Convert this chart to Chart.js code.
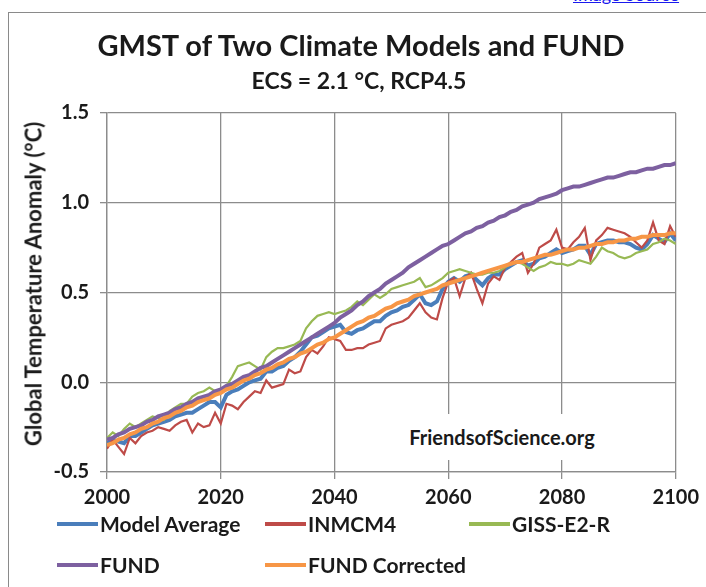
<!DOCTYPE html>
<html>
<head>
<meta charset="utf-8">
<script src="https://cdn.jsdelivr.net/npm/chart.js@4.4.1/dist/chart.umd.min.js"></script>
<style>
  html, body { margin: 0; padding: 0; background: #fff; }
  body { width: 706px; height: 587px; position: relative; overflow: hidden; font-family: Lato, "Open Sans", sans-serif; font-weight: bold; color: #1a1a1a; }
  #frame { position: absolute; left: 8px; top: 12px; width: 720px; height: 600px; border: 1px solid #8a8a8a; box-sizing: border-box; }
  #chart { position: absolute; left: 0; top: 0; }
  .txt { position: absolute; white-space: nowrap; }
  #title { left: 0; width: 722px; top: 27px; text-align: center; font-size: 29px; }
  #subtitle { left: 0; width: 718px; top: 66px; text-align: center; font-size: 23px; }
  #ytitle { left: 33px; top: 284px; font-size: 22px; transform: translate(-50%, -50%) rotate(-90deg); }
  #stamp { left: 398px; top: 414px; width: 208px; height: 46px; background: #fff; text-align: center; line-height: 46px; font-size: 20px; }
  .key { position: absolute; height: 4px; width: 41px; }
  .lab { position: absolute; font-size: 21px; white-space: nowrap; line-height: 26px; }
  #toplink { position: absolute; left: 573px; top: -17px; font-size: 18px; font-weight: normal; color: #1a1aee; text-decoration: underline; }
</style>
</head>
<body>
<a id="toplink">Image Source</a>
<div id="frame"></div>
<canvas id="chart" width="706" height="587"></canvas>
<div class="txt" id="title">GMST of Two Climate Models and FUND</div>
<div class="txt" id="subtitle">ECS = 2.1 °C, RCP4.5</div>
<div class="txt" id="ytitle">Global Temperature Anomaly (°C)</div>
<div class="txt" id="stamp">FriendsofScience.org</div>
<div id="legend"></div>
<script>
// years on the x axis
const years = [2000, 2001, 2002, 2003, 2004, 2005, 2006, 2007, 2008, 2009,
  2010, 2011, 2012, 2013, 2014, 2015, 2016, 2017, 2018, 2019,
  2020, 2021, 2022, 2023, 2024, 2025, 2026, 2027, 2028, 2029,
  2030, 2031, 2032, 2033, 2034, 2035, 2036, 2037, 2038, 2039,
  2040, 2041, 2042, 2043, 2044, 2045, 2046, 2047, 2048, 2049,
  2050, 2051, 2052, 2053, 2054, 2055, 2056, 2057, 2058, 2059,
  2060, 2061, 2062, 2063, 2064, 2065, 2066, 2067, 2068, 2069,
  2070, 2071, 2072, 2073, 2074, 2075, 2076, 2077, 2078, 2079,
  2080, 2081, 2082, 2083, 2084, 2085, 2086, 2087, 2088, 2089,
  2090, 2091, 2092, 2093, 2094, 2095, 2096, 2097, 2098, 2099, 2100];

// anomaly values (°C)
const modelAverage = [-0.34, -0.32, -0.33, -0.34, -0.30, -0.30, -0.28, -0.26, -0.24, -0.23,
  -0.22, -0.21, -0.19, -0.18, -0.17, -0.17, -0.15, -0.13, -0.11, -0.11,
  -0.14, -0.07, -0.05, -0.04, -0.02, 0.00, 0.01, 0.02, 0.06, 0.06,
  0.08, 0.09, 0.12, 0.14, 0.17, 0.21, 0.25, 0.26, 0.28, 0.30,
  0.31, 0.32, 0.28, 0.27, 0.29, 0.30, 0.32, 0.34, 0.34, 0.37,
  0.39, 0.40, 0.42, 0.43, 0.46, 0.49, 0.44, 0.43, 0.45, 0.52,
  0.56, 0.58, 0.56, 0.59, 0.60, 0.57, 0.54, 0.58, 0.60, 0.60,
  0.63, 0.65, 0.67, 0.68, 0.65, 0.66, 0.69, 0.70, 0.72, 0.74,
  0.72, 0.73, 0.74, 0.76, 0.76, 0.71, 0.77, 0.78, 0.79, 0.79,
  0.78, 0.78, 0.77, 0.75, 0.74, 0.77, 0.82, 0.80, 0.78, 0.83, 0.79];

const inmcm4 = [-0.37, -0.32, -0.36, -0.40, -0.31, -0.34, -0.30, -0.28, -0.27, -0.25,
  -0.26, -0.27, -0.24, -0.22, -0.21, -0.28, -0.23, -0.25, -0.24, -0.17,
  -0.23, -0.12, -0.13, -0.15, -0.11, -0.08, -0.05, -0.06, 0.01, -0.03,
  -0.02, -0.01, 0.07, 0.05, 0.06, 0.14, 0.18, 0.16, 0.20, 0.25,
  0.24, 0.23, 0.18, 0.18, 0.19, 0.19, 0.21, 0.22, 0.23, 0.30,
  0.32, 0.33, 0.34, 0.36, 0.40, 0.44, 0.39, 0.36, 0.35, 0.47,
  0.56, 0.58, 0.48, 0.58, 0.61, 0.52, 0.44, 0.55, 0.59, 0.57,
  0.64, 0.67, 0.70, 0.72, 0.61, 0.66, 0.75, 0.77, 0.79, 0.85,
  0.75, 0.74, 0.78, 0.81, 0.86, 0.68, 0.79, 0.82, 0.86, 0.85,
  0.84, 0.83, 0.81, 0.78, 0.75, 0.79, 0.89, 0.79, 0.77, 0.87, 0.81];

const giss = [-0.31, -0.28, -0.30, -0.26, -0.23, -0.25, -0.23, -0.21, -0.19, -0.20,
  -0.21, -0.16, -0.14, -0.12, -0.12, -0.08, -0.06, -0.05, -0.03, -0.05,
  -0.06, -0.02, 0.03, 0.09, 0.10, 0.11, 0.09, 0.07, 0.14, 0.17,
  0.19, 0.19, 0.20, 0.21, 0.23, 0.30, 0.34, 0.37, 0.38, 0.39,
  0.38, 0.39, 0.40, 0.42, 0.45, 0.43, 0.46, 0.49, 0.47, 0.49,
  0.52, 0.53, 0.54, 0.55, 0.56, 0.58, 0.53, 0.54, 0.56, 0.58,
  0.61, 0.62, 0.63, 0.62, 0.61, 0.60, 0.60, 0.61, 0.61, 0.62,
  0.64, 0.66, 0.67, 0.66, 0.64, 0.62, 0.64, 0.65, 0.67, 0.66,
  0.66, 0.65, 0.66, 0.68, 0.67, 0.66, 0.70, 0.75, 0.73, 0.72,
  0.70, 0.69, 0.70, 0.72, 0.73, 0.74, 0.77, 0.78, 0.80, 0.79, 0.77];

const fund = [-0.32, -0.31, -0.29, -0.28, -0.26, -0.25, -0.24, -0.22, -0.21, -0.19,
  -0.18, -0.17, -0.15, -0.14, -0.12, -0.11, -0.09, -0.08, -0.07, -0.05,
  -0.04, -0.02, -0.01, 0.01, 0.03, 0.04, 0.06, 0.08, 0.09, 0.11,
  0.13, 0.15, 0.17, 0.19, 0.21, 0.23, 0.25, 0.27, 0.29, 0.31,
  0.33, 0.36, 0.38, 0.40, 0.43, 0.45, 0.48, 0.50, 0.52, 0.55,
  0.57, 0.59, 0.61, 0.64, 0.66, 0.68, 0.70, 0.72, 0.74, 0.76,
  0.77, 0.79, 0.81, 0.83, 0.84, 0.86, 0.87, 0.89, 0.90, 0.92,
  0.93, 0.95, 0.96, 0.98, 0.99, 1.00, 1.02, 1.03, 1.04, 1.05,
  1.07, 1.08, 1.09, 1.09, 1.10, 1.11, 1.12, 1.13, 1.14, 1.14,
  1.15, 1.16, 1.17, 1.17, 1.18, 1.19, 1.19, 1.20, 1.21, 1.21, 1.22];

const fundCorrected = [-0.35, -0.34, -0.32, -0.31, -0.29, -0.28, -0.26, -0.25, -0.23, -0.22,
  -0.20, -0.19, -0.17, -0.16, -0.14, -0.13, -0.11, -0.10, -0.09, -0.07,
  -0.06, -0.04, -0.03, -0.01, 0.01, 0.02, 0.04, 0.05, 0.07, 0.08,
  0.10, 0.11, 0.13, 0.14, 0.16, 0.17, 0.19, 0.21, 0.22, 0.24,
  0.25, 0.27, 0.29, 0.31, 0.33, 0.34, 0.36, 0.37, 0.39, 0.41,
  0.42, 0.44, 0.45, 0.46, 0.48, 0.49, 0.50, 0.51, 0.52, 0.54,
  0.55, 0.56, 0.57, 0.58, 0.59, 0.60, 0.61, 0.62, 0.63, 0.64,
  0.65, 0.66, 0.67, 0.67, 0.68, 0.69, 0.70, 0.71, 0.71, 0.72,
  0.73, 0.74, 0.74, 0.75, 0.75, 0.76, 0.77, 0.77, 0.78, 0.78,
  0.79, 0.79, 0.80, 0.80, 0.81, 0.81, 0.82, 0.82, 0.82, 0.83, 0.83];

const xTicks = [2000, 2020, 2040, 2060, 2080, 2100];
const yTicks = [-0.5, 0.0, 0.5, 1.0, 1.5];

// series styling, in the reference's legend order
const series = [
  { label: 'Model Average', values: modelAverage, color: '#4a7ebb', width: 4, order: 5 },
  { label: 'INMCM4', values: inmcm4, color: '#be4b48', width: 2.2, order: 4 },
  { label: 'GISS-E2-R', values: giss, color: '#98b954', width: 2.2, order: 3 },
  { label: 'FUND', values: fund, color: '#7d60a0', width: 4, order: 2 },
  { label: 'FUND Corrected', values: fundCorrected, color: '#f79646', width: 4, order: 1 },
];

const gridColor = '#8c8c8c';
const tickFont = { family: 'Lato', size: 20, weight: 'bold' };

new Chart(document.getElementById('chart'), {
  type: 'line',
  data: {
    datasets: series.map((s) => ({
      label: s.label,
      data: years.map((yr, i) => ({ x: yr, y: s.values[i] })),
      borderColor: s.color,
      borderWidth: s.width,
      pointRadius: 0,
      tension: 0,
      order: s.order,
    })),
  },
  options: {
    responsive: false,
    animation: false,
    layout: { padding: { left: 0, right: 27, top: 113, bottom: 0 } },
    plugins: { legend: { display: false }, tooltip: { enabled: false } },
    scales: {
      x: {
        type: 'linear',
        min: 2000,
        max: 2100,
        afterBuildTicks: (scale) => { scale.ticks = xTicks.map((v) => ({ value: v })); },
        afterFit: (scale) => { scale.height = 115; },
        ticks: { color: '#1a1a1a', font: tickFont, padding: 7, maxRotation: 0, callback: (v) => String(v) },
        grid: { color: gridColor, lineWidth: 1.3, tickLength: 7 },
        border: { color: gridColor, width: 1.3 },
      },
      y: {
        min: -0.5,
        max: 1.5,
        afterBuildTicks: (scale) => { scale.ticks = yTicks.map((v) => ({ value: v })); },
        afterFit: (scale) => { scale.width = 107; },
        ticks: { color: '#1a1a1a', font: tickFont, padding: 11, callback: (v) => v.toFixed(1) },
        grid: { color: gridColor, lineWidth: 1.3, tickLength: 7 },
        border: { color: gridColor, width: 1.3 },
      },
    },
  },
});

// hand-placed legend, two rows like the reference
const legendSpots = [
  { x: 57, y: 524 }, { x: 265, y: 524 }, { x: 469, y: 524 },
  { x: 57, y: 565 }, { x: 265, y: 565 },
];
const legend = document.getElementById('legend');
series.forEach((s, i) => {
  const spot = legendSpots[i];
  const key = document.createElement('div');
  key.className = 'key';
  key.style.left = spot.x + 'px';
  key.style.top = (spot.y - 2) + 'px';
  key.style.background = s.color;
  legend.appendChild(key);
  const lab = document.createElement('div');
  lab.className = 'lab';
  lab.textContent = s.label;
  lab.style.left = (spot.x + 43) + 'px';
  lab.style.top = (spot.y - 13) + 'px';
  legend.appendChild(lab);
});
</script>
</body>
</html>
